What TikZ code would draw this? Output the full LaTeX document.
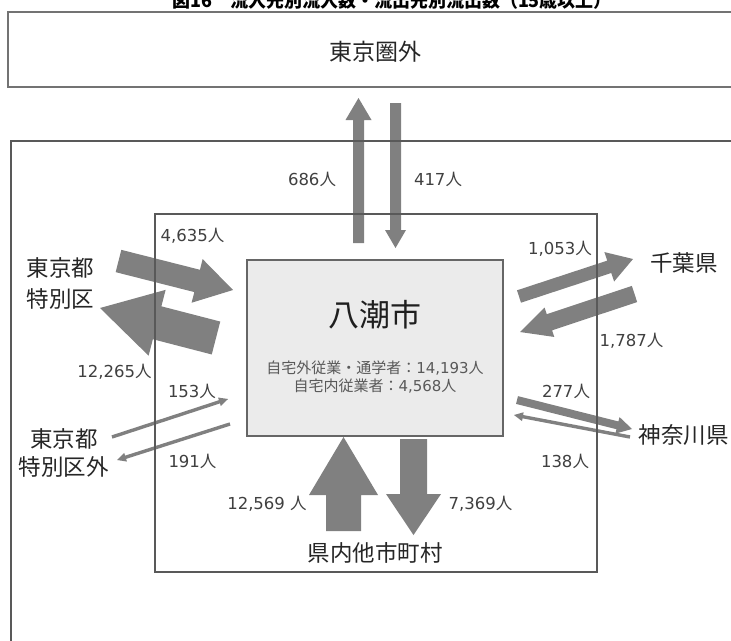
\documentclass[tikz,border=0pt]{standalone}
\usepackage{fontspec}
\setmainfont{DejaVu Sans}
\newfontfamily\jp{Noto Sans CJK JP}
\usetikzlibrary{calc}
\newcommand\hito{{\jp 人}}
\newcommand\blockarrow[5]{%
  \coordinate (ba-m) at ($(#2)!#5!(#1)$);
  \fill[arrowfill] ($(#1)!#3!90:(#2)$) -- ($(ba-m)!#3!90:(#2)$) -- ($(ba-m)!#4!90:(#2)$)
    -- (#2) -- ($(ba-m)!#4!-90:(#2)$) -- ($(ba-m)!#3!-90:(#2)$) -- ($(#1)!#3!-90:(#2)$) -- cycle;}
\tikzset{
  lbl/.style={font=\fontsize{16.5}{19}\selectfont, text=black!75, inner sep=0pt},
  region/.style={font=\jp\fontsize{22.5}{31}\selectfont, text=black!85, inner sep=0pt, align=center},
  frame/.style={draw=black!65, line width=1.3pt},
  arrowfill/.style={fill={rgb,255:red,128;green,128;blue,128}},
}
\begin{document}
\begin{tikzpicture}[x=1pt,y=-1pt]
\useasboundingbox (0,0) rectangle (731,640);
\fill[white] (0,0) rectangle (731,640);
\clip (0,0) rectangle (731,640);

% title (cut off at the top, as in the reference)
\node[font=\jp\bfseries\fontsize{18}{20}\selectfont, inner sep=0pt] (title) at (392,1) {図16　流入先別流入数・流出先別流出数（15歳以上）};

% region texts
\node[region, font=\jp\fontsize{23}{26}\selectfont] (tokyoken) at (375,52) {東京圏外};
\node[region] (ku) at (60.5,283.5) {東京都\\特別区};
\node[region, font=\jp\fontsize{22.5}{28}\selectfont] (kugai) at (64,453) {東京都\\特別区外};
\node[region] (chiba) at (684,263) {千葉県};
\node[region] (kanagawa) at (683.5,435) {神奈川県};
\node[region] (kennai) at (375,553) {県内他市町村};

% arrow end points
\coordinate (a686t) at (358.5,243); \coordinate (a686h) at (358.5,98);
\coordinate (a417t) at (395.5,103); \coordinate (a417h) at (395.5,248);
\coordinate (a4635t) at (118.5,261); \coordinate (a4635h) at (233,290);
\coordinate (a12265t) at (216,338); \coordinate (a12265h) at (100,308);
\coordinate (a153t) at (112,437); \coordinate (a153h) at (228,399);
\coordinate (a191t) at (230,424); \coordinate (a191h) at (117,460);
\coordinate (a1053t) at (519,296.5); \coordinate (a1053h) at (633,259);
\coordinate (a1787t) at (634.5,294); \coordinate (a1787h) at (520,332);
\coordinate (a277t) at (517,400); \coordinate (a277h) at (632,429);
\coordinate (a138t) at (630,437); \coordinate (a138h) at (514,415);
\coordinate (a12569t) at (343.5,531); \coordinate (a12569h) at (343.5,437);
\coordinate (a7369t) at (413.5,439); \coordinate (a7369h) at (413.5,535);

% block arrows
\blockarrow{a686t}{a686h}{5.5pt}{13pt}{22pt}
\blockarrow{a417t}{a417h}{5.5pt}{10.5pt}{18pt}
\blockarrow{a4635t}{a4635h}{11.5pt}{22.5pt}{37pt}
\blockarrow{a12265t}{a12265h}{17pt}{34pt}{59pt}
\blockarrow{a153t}{a153h}{1.7pt}{4.5pt}{9pt}
\blockarrow{a191t}{a191h}{1.7pt}{4.5pt}{9pt}
\blockarrow{a1053t}{a1053h}{6.5pt}{15.5pt}{25pt}
\blockarrow{a1787t}{a1787h}{8.5pt}{15.5pt}{31pt}
\blockarrow{a277t}{a277h}{4pt}{8.5pt}{15pt}
\blockarrow{a138t}{a138h}{1.7pt}{4.5pt}{9pt}
\blockarrow{a12569t}{a12569h}{17.5pt}{34.5pt}{58pt}
\blockarrow{a7369t}{a7369h}{13.5pt}{27.5pt}{41pt}

% frames
\draw[frame, draw=black!55, line width=1.6pt] (8,12) rectangle (745,87);
\draw[frame] (11,141) rectangle (745,660);
\draw[frame] (155,214) rectangle (597,572);

% city box
\node[draw=black!60, line width=1.3pt, fill=black!8, minimum width=256pt, minimum height=176pt, inner sep=0pt] (yashio) at (375,348) {};
\node[font=\jp\fontsize{31}{34}\selectfont, text=black!88, inner sep=0pt] (yname) at (375,315) {八潮市};
\node[font=\jp\fontsize{15}{17}\selectfont, text=black!65, inner sep=0pt] (y1) at (375,368) {自宅外従業・通学者：{\rmfamily 14,193}人};
\node[font=\jp\fontsize{15}{17}\selectfont, text=black!65, inner sep=0pt] (y2) at (375,386) {自宅内従業者：{\rmfamily 4,568}人};

% value labels
\node[lbl] (l686) at (312,179) {686\hito};
\node[lbl] (l417) at (438,179) {417\hito};
\node[lbl] (l4635) at (192.5,236) {4,635\hito};
\node[lbl] (l12265) at (114.5,372) {12,265\hito};
\node[lbl] (l153) at (192,391) {153\hito};
\node[lbl] (l191) at (192.5,461) {191\hito};
\node[lbl] (l1053) at (560,249) {1,053\hito};
\node[lbl] (l1787) at (631.5,341) {1,787\hito};
\node[lbl] (l277) at (566,391) {277\hito};
\node[lbl] (l138) at (565,461) {138\hito};
\node[lbl] (l12569) at (267,504) {12,569 \hito};
\node[lbl] (l7369) at (480.5,504) {7,369\hito};
\end{tikzpicture}
\end{document}
